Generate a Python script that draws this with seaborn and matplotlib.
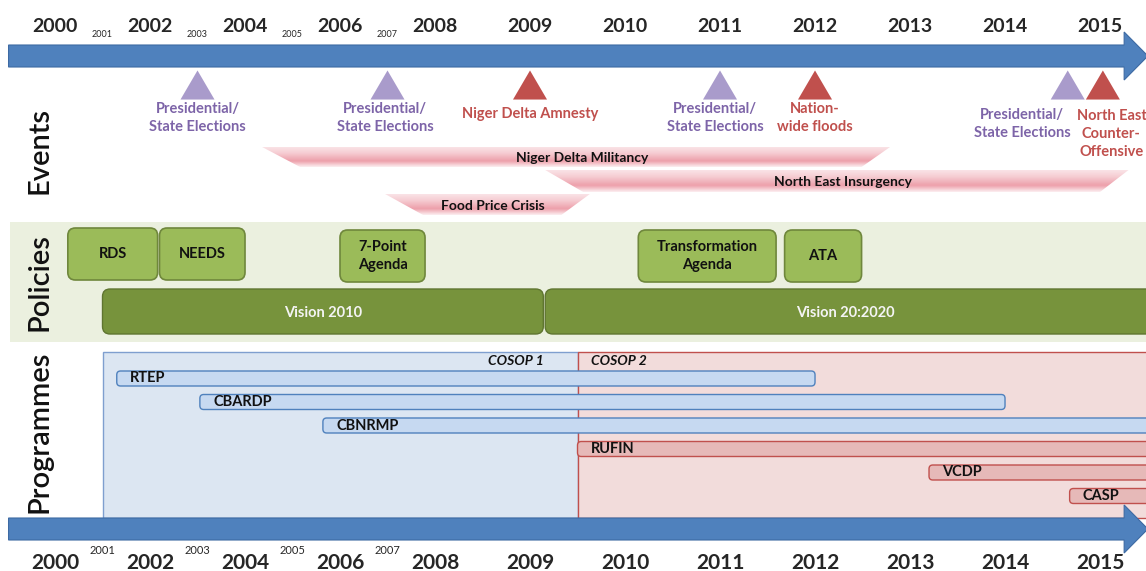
import numpy as np
import pandas as pd
import matplotlib.pyplot as plt
import seaborn as sns
from matplotlib.patches import FancyBboxPatch, Polygon, Rectangle
from matplotlib.path import Path

# timeline: two-year steps up to 2008, then yearly
major_years = [2000, 2002, 2004, 2006, 2008, 2009, 2010, 2011, 2012, 2013, 2014, 2015]
minor_years = [2001, 2003, 2005, 2007]

# events (triangles) and where their captions sit
event_names = ["Presidential/\nState Elections", "Presidential/\nState Elections",
               "Niger Delta Amnesty", "Presidential/\nState Elections",
               "Nation-\nwide floods", "Presidential/\nState Elections",
               "North East\nCounter-\nOffensive"]
event_years = [2003, 2007, 2009, 2011, 2012, 2014.66, 2015.03]
event_label_years = [2003, 2006.95, 2009, 2010.95, 2012, 2014.18, 2015.12]
event_kinds = ["election", "election", "crisis", "election", "crisis", "election", "crisis"]

# longer lasting events (pink bands)
period_names = ["Niger Delta Militancy", "North East Insurgency", "Food Price Crisis"]
period_start = [2004.36, 2009.16, 2006.95]
period_end = [2012.79, 2015.3, 2009.63]

# policies
policy_names = ["RDS", "NEEDS", "7-Point\nAgenda", "Transformation\nAgenda", "ATA"]
policy_start = [2000.27, 2002.2, 2006.0, 2010.14, 2011.68]
policy_end = [2002.16, 2004.0, 2007.79, 2011.59, 2012.49]
vision_names = ["Vision 2010", "Vision 20:2020"]
vision_start = [2001.0, 2009.16]
vision_end = [2009.14, 2015.7]

# programmes
cosop_names = ["COSOP 1", "COSOP 2"]
cosop_start = [2001.0, 2009.5]
cosop_end = [2009.5, 2015.7]
programme_names = ["RTEP", "CBARDP", "CBNRMP", "RUFIN", "VCDP", "CASP"]
programme_start = [2001.3, 2003.05, 2005.64, 2009.5, 2013.2, 2014.68]
programme_end = [2012.0, 2014.0, 2015.7, 2015.7, 2015.7, 2015.7]
programme_cosop = [1, 1, 1, 2, 2, 2]

slots = np.arange(len(major_years))


def pos(year):
    year = np.asarray(year, dtype=float)
    inside = np.interp(year, major_years, slots)
    out = np.where(year < 2000, (year - 2000) / 2, np.where(year > 2015, 11 + year - 2015, inside))
    return out if out.ndim else float(out)


sns.set_theme(style="white")
plt.rcParams["font.family"] = ["Lato", "DejaVu Sans"]

W, H = 1146, 571
fig = plt.figure(figsize=(W / 100, H / 100), dpi=100)
ax = fig.add_axes([0, 0, 1, 1])
x_lo, x_hi = -0.579, 11.484
ax.set_xlim(x_lo, x_hi)
ax.set_ylim(H, 0)
aspect = W / (x_hi - x_lo)  # pixels per slot, y unit is one pixel
yax = ax.get_yaxis_transform()


def box(start, end, y0, y1, face, edge, r=0.08, lw=1.0, z=3):
    x0, x1 = pos(start), pos(end)
    ax.add_patch(FancyBboxPatch((x0, y0), x1 - x0, y1 - y0,
                                boxstyle=f"round,pad=0,rounding_size={r}",
                                mutation_aspect=aspect, fc=face, ec=edge, lw=lw, zorder=z))
    return x0, x1


def arrow(yc, shaft=22, head=48):
    xs, xb, xt = x_lo + 0.09, x_hi - 0.23, x_hi + 0.02
    verts = [(xs, yc - shaft / 2), (xb, yc - shaft / 2), (xb, yc - head / 2), (xt, yc),
             (xb, yc + head / 2), (xb, yc + shaft / 2), (xs, yc + shaft / 2)]
    ax.add_patch(Polygon(verts, closed=True, fc="#4f81bd", ec="#3d6aa3", lw=0.8, zorder=6))


# ---- section labels
for label, yc in [("Events", 150), ("Policies", 282), ("Programmes", 432)]:
    ax.text(40 / W, yc, label, transform=yax, rotation=90, ha="center", va="center",
            fontsize=21, fontweight="semibold", color="#111111")

# ---- events
for name, start, end, y0, y1 in zip(period_names, period_start, period_end,
                                     [147, 170, 194], [167, 192, 215]):
    x0, x1 = pos(start), pos(end)
    clip = Polygon([(x0, y0), (x1, y0), (x1 - 0.3, y1), (x0 + 0.4, y1)],
                   closed=True, fc="none", ec="none")
    ax.add_patch(clip)
    t = np.linspace(0, 1, 60)[:, None]
    rgba = np.zeros((60, 2, 4))
    rgba[..., :3] = (0.92, 0.56, 0.61)
    rgba[..., 3] = np.interp(t, [0, 0.3, 0.7, 1], [0.25, 0.45, 0.85, 0.15])
    im = ax.imshow(rgba, extent=(x0, x1, y1, y0), aspect="auto", interpolation="bilinear", zorder=1)
    im.set_clip_path(clip)
    ax.text((x0 + x1) / 2 + 0.06, (y0 + y1) / 2 + 1, name, ha="center", va="center",
            fontsize=10, fontweight="bold", color="#111111", zorder=2)

events = pd.DataFrame({"x": pos(event_years), "y": 85.0, "kind": event_kinds})
tri = Path([(0, 1), (-1.17, -1), (1.17, -1), (0, 1)])
sns.scatterplot(data=events, x="x", y="y", hue="kind", marker=tri, s=600, linewidth=0,
                palette={"election": "#a99bcb", "crisis": "#c0504d"}, legend=False, ax=ax, zorder=4)

text_colors = {"election": "#7d64a8", "crisis": "#c0504d"}
for name, ly, kind in zip(event_names, event_label_years, event_kinds):
    lines = name.count("\n") + 1
    yc = {1: 114, 2: 118, 3: 134}[lines]
    if ly > 2014:
        yc = 124 if lines == 2 else 134
    ax.text(pos(ly), yc, name, ha="center", va="center", fontsize=10.5, fontweight="bold",
            color=text_colors[kind], linespacing=1.35, zorder=4)

# ---- policies
ax.add_patch(Rectangle((10 / W, 222), 1, 120, transform=yax, fc="#ebf0df", ec="none", zorder=0))
for name, start, end in zip(policy_names, policy_start, policy_end):
    y0 = 228 if start < 2004 else 230
    x0, x1 = box(start, end, y0, y0 + 52, "#9bbb59", "#6f873c", lw=1.2)
    ax.text((x0 + x1) / 2, y0 + 26, name, ha="center", va="center", fontsize=10.5,
            fontweight="bold", color="#111111", linespacing=1.35, zorder=4)
for name, start, end in zip(vision_names, vision_start, vision_end):
    x0, x1 = box(start, end, 289, 334, "#77933c", "#5f7530")
    ax.text((min(x1, x_hi) + x0) / 2, 313, name, ha="center", va="center", fontsize=10.5,
            fontweight="bold", color="#f4f4f4", zorder=4)

# ---- programmes
cosop_style = {1: ("#dce6f2", "#7f9fcf", "#c6d9f1", "#4f81bd"),
               2: ("#f2dcdb", "#c0504d", "#e6b9b8", "#c0504d")}
for i, (name, start, end) in enumerate(zip(cosop_names, cosop_start, cosop_end), start=1):
    x0, x1 = pos(start), pos(end)
    ax.add_patch(Rectangle((x0, 352), x1 - x0, 166, fc=cosop_style[i][0], ec=cosop_style[i][1],
                           lw=1.0, zorder=1 + i * 0.1))
cx = pos(cosop_end[0])
ax.text(cx - 0.36, 361, cosop_names[0], ha="right", va="center", fontsize=10,
        fontweight="bold", fontstyle="italic", color="#111111", zorder=4)
ax.text(cx + 0.14, 361, cosop_names[1], ha="left", va="center", fontsize=10,
        fontweight="bold", fontstyle="italic", color="#111111", zorder=4)

for k, (name, start, end, c) in enumerate(zip(programme_names, programme_start,
                                               programme_end, programme_cosop)):
    yc = 378.5 + 23.5 * k
    x0, x1 = box(start, end, yc - 7.5, yc + 7.5, cosop_style[c][2], cosop_style[c][3],
                 r=0.04, lw=1.0)
    ax.text(x0 + 0.14, yc, name, ha="left", va="center", fontsize=10.5, fontweight="bold",
            color="#111111", zorder=4)

# ---- timeline arrows and year labels
arrow(56)
arrow(529)

ax.set_xticks(pos(major_years), labels=[str(y) for y in major_years], fontweight="bold", fontsize=15)
ax.set_xticks(pos(minor_years), labels=[str(y) for y in minor_years], minor=True, fontsize=8)
ax.tick_params(axis="x", which="major", length=0, pad=-13)
ax.tick_params(axis="x", which="minor", length=0, pad=-18.5)
top = ax.secondary_xaxis("top")
top.set_xticks(pos(major_years), labels=[str(y) for y in major_years], fontweight="bold", fontsize=14)
top.set_xticks(pos(minor_years), labels=[str(y) for y in minor_years], minor=True, fontsize=6.5)
top.tick_params(axis="x", which="major", length=0, pad=-25)
top.tick_params(axis="x", which="minor", length=0, pad=-28)
top.spines["top"].set_visible(False)

ax.set_yticks([])
ax.set_xlabel("")
ax.set_ylabel("")
for s in ax.spines.values():
    s.set_visible(False)
ax.set_xlim(x_lo, x_hi)
ax.set_ylim(H, 0)

fig.savefig("out.png", dpi=100)
